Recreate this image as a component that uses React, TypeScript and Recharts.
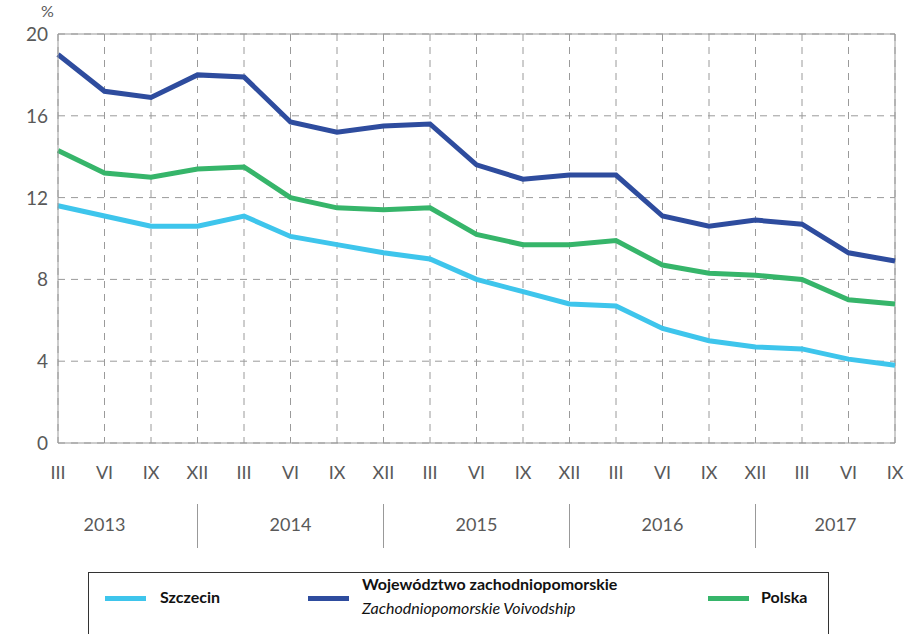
import React from "react";
import { LineChart, Line, XAxis, YAxis, CartesianGrid, ReferenceLine } from "recharts";

const months = ["III","VI","IX","XII","III","VI","IX","XII","III","VI","IX","XII","III","VI","IX","XII","III","VI","IX"];
const years = ["2013","2014","2015","2016","2017"];
const yearLabelIndex = [1, 5, 9, 13, 17];
const yearSeparatorIndex = [3, 7, 11, 15];
const szczecin = [11.6,11.1,10.6,10.6,11.1,10.1,9.7,9.3,9.0,8.0,7.4,6.8,6.7,5.6,5.0,4.7,4.6,4.1,3.8];
const wojewodztwo = [19.0,17.2,16.9,18.0,17.9,15.7,15.2,15.5,15.6,13.6,12.9,13.1,13.1,11.1,10.6,10.9,10.7,9.3,8.9];
const polska = [14.3,13.2,13.0,13.4,13.5,12.0,11.5,11.4,11.5,10.2,9.7,9.7,9.9,8.7,8.3,8.2,8.0,7.0,6.8];
const yTicks = [0,4,8,12,16,20];

const data = months.map((m, i) => ({ key: i, m, szczecin: szczecin[i], woj: wojewodztwo[i], polska: polska[i] }));

const FONT = "Lato, 'Open Sans', sans-serif";
const C_SZ = "#3EC5EC";
const C_WOJ = "#2E4C9E";
const C_PL = "#36B56A";
const TXT = "#595959";

const MonthTick = (props: any) => {
  const { x, y, payload } = props;
  const i = payload.value as number;
  const yi = yearLabelIndex.indexOf(i);
  const isSep = yearSeparatorIndex.indexOf(i) >= 0;
  return (
    <g>
      <text x={x} y={y + 28} textAnchor="middle" fontSize={18} fill={TXT} fontFamily={FONT}>{months[i]}</text>
      {yi >= 0 && (
        <text x={x + (i === 17 ? -13 : 0)} y={y + 80} textAnchor="middle" fontSize={18} fill={TXT} fontFamily={FONT}>{years[yi]}</text>
      )}
      {isSep && <line x1={x} x2={x} y1={y + 53} y2={y + 97} stroke="#999" strokeWidth={1} />}
    </g>
  );
};

const YTick = (props: any) => {
  const { x, y, payload } = props;
  return (
    <text x={x - 2} y={y + 7} textAnchor="end" fontSize={19} fill={TXT} fontFamily={FONT}>{payload.value}</text>
  );
};

export default function App() {
  return (
    <div style={{ position: "absolute", left: 0, top: 0, width: 907, height: 634, background: "#fff", overflow: "hidden" }}>
      <LineChart width={907} height={634} data={data} margin={{ top: 34, right: 12, bottom: 0, left: 0 }}>
        <CartesianGrid stroke="#9a9a9a" strokeDasharray="7 6" />
        <XAxis dataKey="key" type="category" scale="point" interval={0} tickLine={false} axisLine={{ stroke: "#999" }} height={191} tick={<MonthTick />} />
        <YAxis domain={[0, 20]} ticks={yTicks} width={58} tickLine={false} axisLine={{ stroke: "#999" }} tick={<YTick />} interval={0} />
        <ReferenceLine y={20} stroke="#999" />
        <ReferenceLine x={18} stroke="#999" />
        <Line dataKey="szczecin" stroke={C_SZ} strokeWidth={5} dot={false} isAnimationActive={false} />
        <Line dataKey="polska" stroke={C_PL} strokeWidth={5} dot={false} isAnimationActive={false} />
        <Line dataKey="woj" stroke={C_WOJ} strokeWidth={5} dot={false} isAnimationActive={false} />
      </LineChart>
      <div style={{ position: "absolute", left: 41, top: 2, lineHeight: "18px", fontFamily: FONT, fontSize: 16, color: TXT }}>%</div>
      <div style={{ position: "absolute", left: 88, top: 572, width: 741, height: 80, border: "1px solid #333", boxSizing: "border-box", fontFamily: FONT, color: "#111" }}>
        <div style={{ position: "absolute", left: 16, top: 23, width: 41, height: 5, background: C_SZ }} />
        <div style={{ position: "absolute", left: 71, top: 14, fontSize: 16, fontWeight: 700 }}>Szczecin</div>
        <div style={{ position: "absolute", left: 219, top: 23, width: 41, height: 5, background: C_WOJ }} />
        <div style={{ position: "absolute", left: 273, top: 1, fontSize: 16, fontWeight: 700 }}>Województwo zachodniopomorskie</div>
        <div style={{ position: "absolute", left: 273, top: 25, fontSize: 16, fontStyle: "italic" }}>Zachodniopomorskie Voivodship</div>
        <div style={{ position: "absolute", left: 619, top: 23, width: 41, height: 5, background: C_PL }} />
        <div style={{ position: "absolute", left: 672, top: 14, fontSize: 16, fontWeight: 700 }}>Polska</div>
      </div>
    </div>
  );
}
